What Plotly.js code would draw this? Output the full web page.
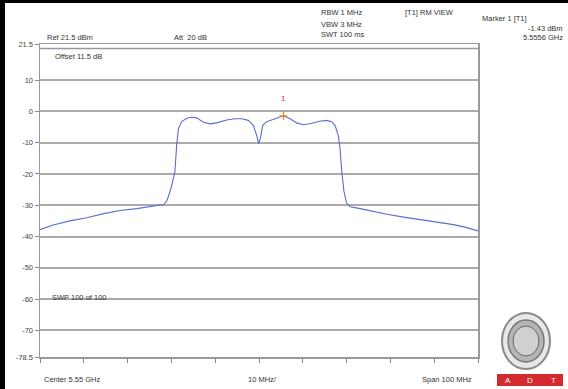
<!DOCTYPE html>
<html>
<head>
<meta charset="utf-8">
<script src="https://cdn.plot.ly/plotly-3.0.1.min.js"></script>
<style>
html,body{margin:0;padding:0;background:#000;width:568px;height:389px;overflow:hidden;}
#chart{position:absolute;left:5px;top:3px;width:563px;height:386px;background:#fff;}
</style>
</head>
<body>
<div id="chart"></div>
<script>
// Frequency offset from centre (MHz) and level (dBm)
const freqMHz = [-50,-47,-43.2,-39.3,-35.5,-31.7,-27.9,-24.1,-21.8,-21.1,-20.5,-19.9,-19.2,-18.8,-18.4,-17.65,-16.5,-15.4,-14.2,-12.7,-11.2,-9.7,-7.4,-5.5,-3.95,-2.45,-1.3,-0.53,-0.07,0.39,0.85,1.76,3.3,4.8,5.6,7.1,8.6,10.1,11.6,13.9,15.45,16.6,17.35,18.1,18.5,18.9,19.4,20.0,20.8,23.1,26,29.2,33,36.8,40.5,44.4,47,50];
const levelDb = [-37.8,-36.3,-35.0,-34.0,-32.7,-31.7,-31.1,-30.3,-29.8,-28.8,-26.5,-23.5,-19.3,-10.8,-5.6,-3.3,-2.2,-1.9,-2.1,-3.5,-4.0,-3.7,-2.8,-2.4,-2.4,-2.9,-4.5,-7.7,-10.3,-8.2,-4.5,-3.3,-2.6,-2.0,-1.43,-2.4,-3.7,-4.3,-4.0,-3.2,-2.9,-3.3,-4.5,-7.7,-11.9,-19.3,-25.6,-29.3,-30.5,-31.1,-32.0,-32.9,-33.8,-34.6,-35.4,-36.2,-37.0,-38.2];
const markerFreq = [5.6];
const markerLevel = [-1.43];
const xTicks = [-50,-40,-30,-20,-10,0,10,20,30,40,50];
const yTicks = [21.5,10,0,-10,-20,-30,-40,-50,-60,-70,-78.5];
const yTickText = ["21.5","10","0","-10","-20","-30","-40","-50","-60","-70","-78.5"];

// plot area in window pixels: x 40..478, y 44..357
const PX0=40, PX1=478, PY0=44, PY1=357;
const px = x => (x-PX0)/(PX1-PX0);
const py = y => (PY1-y)/(PY1-PY0);
const F = {family:"Liberation Sans, Arial, sans-serif", size:7.5, color:"#333"};
function txt(t,x,y,anchor,extra){
  return Object.assign({text:t,xref:"paper",yref:"paper",x:px(x),y:py(y),xanchor:anchor||"left",yanchor:"middle",showarrow:false,font:F},extra||{});
}

const traces = [
  {x:freqMHz,y:levelDb,type:"scatter",mode:"lines",line:{color:"#5a6ed0",width:1.1},hoverinfo:"skip"},
  {x:markerFreq,y:markerLevel,type:"scatter",mode:"markers",marker:{symbol:"cross-thin-open",size:6,line:{color:"#e0303a",width:1.2}},hoverinfo:"skip"}
];

const annotations = [
  txt("Ref 21.5 dBm",45,37),
  txt("Att  20 dB",172,37),
  txt("RBW 1 MHz",319,13),
  txt("VBW 3 MHz",319,24),
  txt("SWT 100 ms",319,35),
  txt("[T1] RM VIEW",403,12),
  txt("Marker 1 [T1]",480,18),
  txt("-1.43 dBm",565,28,"right"),
  txt("5.5556 GHz",565,37,"right"),
  txt("Offset 11.5 dB",53,56),
  txt("SWP 100 of 100",50,297),
  txt("Center 5.55 GHz",42,379),
  txt("10 MHz/",262,379,"center"),
  txt("Span 100 MHz",474,379,"right"),
  {text:"1",xref:"x",yref:"y",x:markerFreq[0],y:markerLevel[0]+5.6,showarrow:false,font:{family:F.family,size:8,color:"#e03030"}},
  txt("A",508,380,"center",{font:{family:F.family,size:8,color:"#fff"}}),
  txt("D",530,380,"center",{font:{family:F.family,size:8,color:"#fff"}}),
  txt("T",553,380,"center",{font:{family:F.family,size:8,color:"#fff"}})
];

const shapes = [
  {type:"line",xref:"paper",yref:"y",x0:0,x1:1,y0:20.1,y1:20.1,line:{color:"#999",width:1.5}},
  // logo seal
  {type:"circle",xref:"paper",yref:"paper",x0:px(502),x1:px(550),y0:py(369),y1:py(313),line:{color:"#8a8a8a",width:2},fillcolor:"#e8e8e8"},
  {type:"circle",xref:"paper",yref:"paper",x0:px(508),x1:px(544),y0:py(362),y1:py(320),line:{color:"#777",width:1.5},fillcolor:"#b5b5b5"},
  {type:"circle",xref:"paper",yref:"paper",x0:px(513),x1:px(539),y0:py(356),y1:py(326),line:{color:"#666",width:1},fillcolor:"#d0d0d0"},
  {type:"rect",xref:"paper",yref:"paper",x0:px(497),x1:px(563),y0:py(386),y1:py(374),line:{width:0},fillcolor:"#d42a2f"}
];

const layout = {
  width:563, height:386,
  margin:{l:35,r:90,t:41,b:32},
  paper_bgcolor:"#fff", plot_bgcolor:"#fff",
  showlegend:false,
  font:F,
  xaxis:{range:[-50,50],tickvals:xTicks,showticklabels:false,ticks:"outside",ticklen:4,tickcolor:"#888",tickwidth:1,
         showgrid:false,zeroline:false,showline:true,mirror:true,linecolor:"#999",linewidth:1.5,fixedrange:true},
  yaxis:{range:[-78.5,21.5],tickvals:yTicks,ticktext:yTickText,ticks:"outside",ticklen:4,tickcolor:"#888",tickwidth:1,
         showgrid:true,gridcolor:"#aaa",gridwidth:2,zeroline:false,showline:true,mirror:true,linecolor:"#999",linewidth:1.5,
         tickfont:{family:F.family,size:7.5,color:"#444"},fixedrange:true},
  annotations:annotations,
  shapes:shapes
};
Plotly.newPlot("chart",traces,layout,{displayModeBar:false,staticPlot:true});
</script>
</body>
</html>
